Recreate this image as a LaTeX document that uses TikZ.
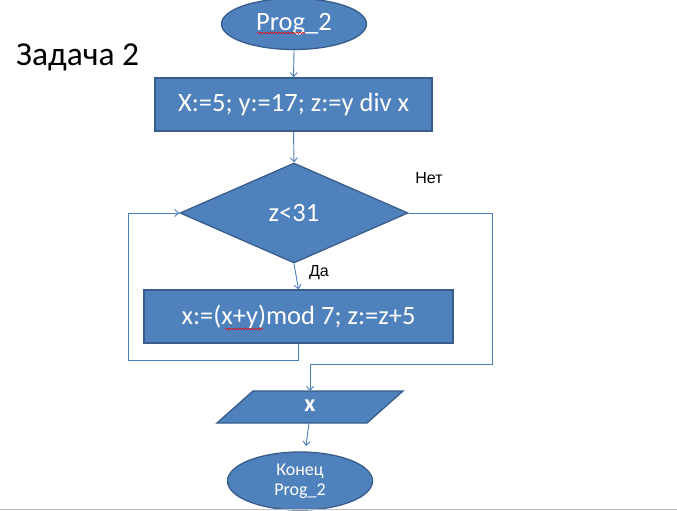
\documentclass[tikz,border=0pt]{standalone}
\usepackage{fontspec}
\setmainfont{Carlito}
\newfontfamily\arialf{Liberation Sans}
\usetikzlibrary{shapes.geometric,arrows.meta,decorations.pathmorphing}
\definecolor{fillb}{HTML}{4F81BD}
\definecolor{edgeb}{HTML}{385D8A}
\definecolor{lineb}{HTML}{4A7EBB}
\begin{document}
\begin{tikzpicture}[x=1pt,y=-1pt,
  blk/.style={fill=fillb, draw=edgeb, line width=1.3pt, text=white,
    font=\fontsize{26.5}{28}\selectfont, inner sep=0pt},
  term/.style={blk, ellipse},
  proc/.style={blk, rectangle},
  dec/.style={blk, diamond},
  conn/.style={draw=lineb, line width=0.9pt, -{Straight Barb[length=4pt,width=7pt]}},
  lbl/.style={font=\arialf\fontsize{16}{18}\selectfont, inner sep=0pt},
  spell/.style={draw=red, line width=0.6pt, decorate,
    decoration={snake, amplitude=0.7pt, segment length=3pt}}]
\useasboundingbox (0,0) rectangle (677,511);
\fill[white] (0,0) rectangle (677,511);

\node[anchor=west, font=\fontsize{33.5}{36}\selectfont, inner sep=0pt] (title) at (16,57) {Задача 2};

\node[term, minimum width=145pt, minimum height=51pt] (start) at (294,24) {Prog\_2};
\node[proc, minimum width=277pt, minimum height=53pt] (init) at (293.5,104.5) {X:=5; y:=17; z:=y div x};
\node[dec, minimum width=228pt, minimum height=100pt] (cond) at (294,213) {z<31};
\node[proc, minimum width=309pt, minimum height=53pt] (body) at (298.5,316.5) {x:=(x+y)mod 7; z:=z+5};

\coordinate (p1) at (253,391);
\coordinate (p2) at (403,391);
\coordinate (p3) at (367,423);
\coordinate (p4) at (217,423);
\draw[blk] (p1) -- (p2) -- (p3) -- (p4) -- cycle;
\node[text=white, font=\bfseries\fontsize{24}{26}\selectfont, inner sep=0pt] (out) at (310,406) {x};
\coordinate (outN) at (310,391);
\coordinate (outS) at (309,423);

\node[term, minimum width=145pt, minimum height=58pt, align=center,
  font=\fontsize{18}{20}\selectfont] (end) at (300,481) {Конец\\Prog\_2};
\coordinate (endin) at (306,446);

\node[lbl] (no) at (429,178) {Нет};
\node[lbl] (yes) at (319,273) {Да};

\draw[conn] (start.south) -- (init.north);
\draw[conn] (init.south) -- (cond.north);
\draw[conn] (cond.south) -- (body.north);
\coordinate (lb) at (128,360);
\draw[conn] (body.south) |- (lb) |- (cond.west);
\coordinate (rb) at (492,364);
\draw[conn] (cond.east) -| (rb) -| (outN);
\draw[conn] (outS) -- (endin);

\draw[spell] (257,33) -- (305,33);
\draw[spell] (225,329) -- (263,329);

\draw[gray!50, line width=1.5pt] (0,509.5) -- (677,509.5);
\end{tikzpicture}
\end{document}
